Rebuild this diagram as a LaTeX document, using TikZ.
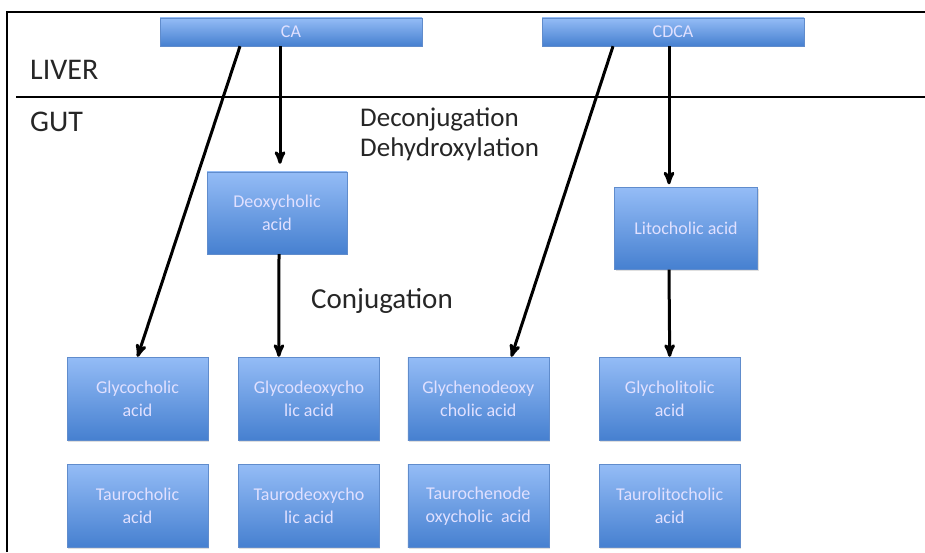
\documentclass[tikz,border=0pt]{standalone}
\usepackage{fontspec}
\setmainfont{Carlito}
\usepackage{tikz}
\usetikzlibrary{calc,positioning,arrows,shadows}
\definecolor{boxtop}{RGB}{148,188,246}
\definecolor{boxbottom}{RGB}{70,128,208}
\definecolor{boxline}{RGB}{96,140,204}
\definecolor{labelgray}{RGB}{38,38,38}
\tikzset{
  >=stealth',
  acidbox/.style={
    rectangle,
    top color=boxtop,
    bottom color=boxbottom,
    draw=boxline, thin,
    drop shadow={shadow xshift=1pt, shadow yshift=-1.5pt, opacity=0.25},
    minimum width=141pt,
    minimum height=83pt,
    inner sep=0pt,
    align=center,
    text=white!88!blue,
    font=\fontsize{18}{23}\selectfont},
  sourcebox/.style={acidbox, minimum width=262pt, minimum height=28pt},
  pil/.style={draw, line width=3pt, ->},
  region/.style={font=\fontsize{30}{32}\selectfont, text=labelgray,
    anchor=base west, inner sep=0pt},
  steplabel/.style={font=\fontsize{27}{30}\selectfont, text=labelgray,
    anchor=base west, inner sep=0pt},
}

\begin{document}
\begin{tikzpicture}[x=1pt,y=1pt]
  \useasboundingbox (0,0) rectangle (925,552);
  % frame and liver/gut border
  \draw[line width=2.4pt] (7,0) -- (7,540) -- (925,540);
  \draw[line width=2.8pt] (16,455) -- (925,455);
  \node[region] (liver) at (30,472) {LIVER};
  \node[region] (gut) at (30,420) {GUT};

  % primary bile acids
  \node[sourcebox] (ca) at (291,520) {CA};
  \node[sourcebox] (cdca) at (673,520) {CDCA};

  % secondary bile acids
  \node[acidbox, minimum width=140pt, minimum height=82pt] (deoxy) at (277,339) {Deoxycholic\\acid};
  \node[acidbox, minimum width=143pt, minimum height=82pt] (lito) at (686,323.5) {Litocholic acid};
  \node[steplabel] (deconj) at (360,425) {Deconjugation};
  \node[steplabel] (dehydr) at (360,395) {Dehydroxylation};
  \node[steplabel, font=\fontsize{29}{30}\selectfont] (conj) at (311,244) {Conjugation};

  % conjugated bile acids
  \node[acidbox] (glyca) at (137.5,153.5) {Glycocholic\\acid};
  \node[acidbox, right=30pt of glyca] (glydca) {Glycodeoxycho\\lic acid};
  \node[acidbox, right=28pt of glydca] (glycdca) {Glychenodeoxy\\cholic acid};
  \node[acidbox, right=50pt of glycdca] (glylca) {Glycholitolic\\acid};
  \node[acidbox, below=24pt of glyca] (tca) {Taurocholic\\acid};
  \node[acidbox, below=24pt of glydca] (tdca) {Taurodeoxycho\\lic acid};
  \node[acidbox, below=24pt of glycdca] (tcdca) {Taurochenode\\oxycholic\ \ acid};
  \node[acidbox, below=24pt of glylca] (tlca) {Taurolitocholic\\acid};

  \draw[pil] ([xshift=-51pt]ca.south) -- (glyca.north);
  \draw[pil, shorten >=8pt] ([xshift=-11pt]ca.south) -- ([xshift=3pt]deoxy.north);
  \draw[pil] ([xshift=2pt]deoxy.south) -- ([xshift=-30pt]glydca.north);
  \draw[pil] ([xshift=-60pt]cdca.south) -- ([xshift=33pt]glycdca.north);
  \draw[pil, shorten >=3pt] ([xshift=-4pt]cdca.south) -- ([xshift=-17pt]lito.north);
  \draw[pil] ([xshift=-17pt]lito.south) -- (glylca.north);
\end{tikzpicture}
\end{document}
